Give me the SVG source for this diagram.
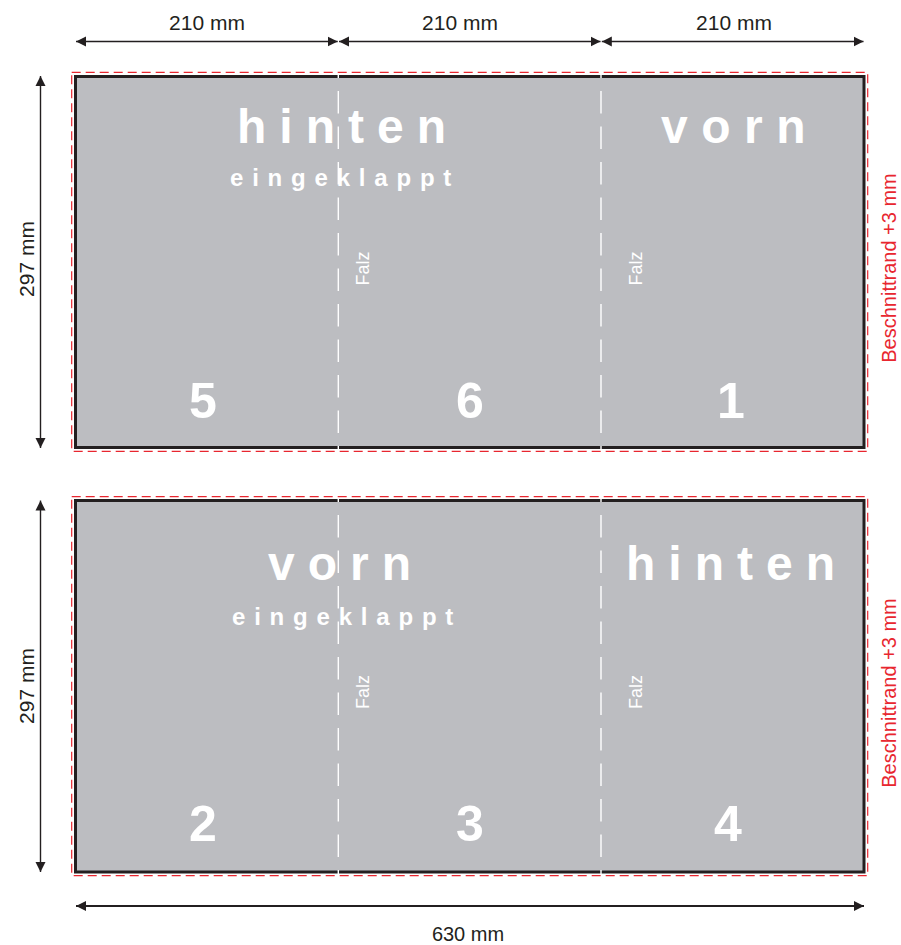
<svg xmlns="http://www.w3.org/2000/svg" width="901" height="945" viewBox="0 0 901 945">
<defs>
<marker id="ah" viewBox="0 0 10 10" refX="10" refY="5" markerWidth="10" markerHeight="11" markerUnits="userSpaceOnUse" orient="auto-start-reverse">
<path d="M0,0 L10,5 L0,10 z" fill="#231f20"/>
</marker>
<style>
.panel{fill:#bcbdc1;stroke:#231f20;stroke-width:3}
.bleed{fill:none;stroke:#e8262f;stroke-width:1.2;stroke-dasharray:9 5}
.fold{stroke:#ffffff;stroke-width:1.4;stroke-dasharray:22.5 13}
.dim{stroke:#231f20;stroke-width:1.4;fill:none}
.dt{font-family:"Liberation Sans",Arial,sans-serif;font-size:21px;fill:#231f20}
.big{font-family:"Liberation Sans",Arial,sans-serif;font-weight:bold;font-size:48px;fill:#ffffff;letter-spacing:13px}
.sub{font-family:"Liberation Sans",Arial,sans-serif;font-weight:bold;font-size:24px;fill:#ffffff;letter-spacing:8.8px}
.num{font-family:"Liberation Sans",Arial,sans-serif;font-weight:bold;font-size:50px;fill:#ffffff;text-anchor:middle}
.falz{font-family:"Liberation Sans",Arial,sans-serif;font-size:18px;fill:#ffffff;text-anchor:middle}
.red{font-family:"Liberation Sans",Arial,sans-serif;font-size:20px;fill:#e8262f;text-anchor:middle}
</style>
</defs>
<g id="top-panel">
<rect class="bleed" x="71.7" y="72.3" width="796" height="379"/>
<rect class="panel" x="75.5" y="76.5" width="788.5" height="371"/>
<line class="fold" x1="338.3" y1="75" x2="338.3" y2="449" stroke-dashoffset="19.5"/>
<line class="fold" x1="601" y1="75" x2="601" y2="449" stroke-dashoffset="19.5"/>
<text class="big" x="237" y="143">hinten</text>
<text class="sub" x="230" y="186">eingeklappt</text>
<text class="big" x="661" y="143" style="letter-spacing:13.5px">vorn</text>
<text class="falz" transform="translate(369,268.5) rotate(-90)">Falz</text>
<text class="falz" transform="translate(642,268.5) rotate(-90)">Falz</text>
<text class="num" x="203" y="418">5</text>
<text class="num" x="470" y="418">6</text>
<text class="num" x="731" y="418">1</text>
</g>
<g id="bottom-panel">
<rect class="bleed" x="71.7" y="496.7" width="796" height="379"/>
<rect class="panel" x="75.5" y="500.5" width="788.5" height="371.5"/>
<line class="fold" x1="338.3" y1="499" x2="338.3" y2="874" stroke-dashoffset="19.5"/>
<line class="fold" x1="601" y1="499" x2="601" y2="874" stroke-dashoffset="19.5"/>
<text class="big" x="268" y="580">vorn</text>
<text class="sub" x="232" y="625">eingeklappt</text>
<text class="big" x="626" y="580">hinten</text>
<text class="falz" transform="translate(369,692) rotate(-90)">Falz</text>
<text class="falz" transform="translate(642,692) rotate(-90)">Falz</text>
<text class="num" x="203" y="841">2</text>
<text class="num" x="470" y="841">3</text>
<text class="num" x="728" y="841">4</text>
</g>
<g id="connectors">
<line class="dim" x1="76" y1="41.5" x2="337.7" y2="41.5" marker-start="url(#ah)" marker-end="url(#ah)"/>
<line class="dim" x1="339" y1="41.5" x2="600.5" y2="41.5" marker-start="url(#ah)" marker-end="url(#ah)"/>
<line class="dim" x1="601.8" y1="41.5" x2="863.5" y2="41.5" marker-start="url(#ah)" marker-end="url(#ah)"/>
<line class="dim" x1="40.5" y1="76" x2="40.5" y2="448" marker-start="url(#ah)" marker-end="url(#ah)"/>
<line class="dim" x1="40.5" y1="500.5" x2="40.5" y2="872" marker-start="url(#ah)" marker-end="url(#ah)"/>
<line class="dim" x1="76" y1="906" x2="864" y2="906" style="stroke-width:2" marker-start="url(#ah)" marker-end="url(#ah)"/>
</g>
<g id="labels">
<text class="dt" x="207" y="30" text-anchor="middle">210 mm</text>
<text class="dt" x="460" y="30" text-anchor="middle">210 mm</text>
<text class="dt" x="734" y="30" text-anchor="middle">210 mm</text>
<text class="dt" text-anchor="middle" transform="translate(33.5,259) rotate(-90)">297 mm</text>
<text class="dt" text-anchor="middle" transform="translate(33.5,686) rotate(-90)">297 mm</text>
<text class="dt" x="468" y="941" text-anchor="middle" style="font-size:20px">630 mm</text>
<text class="red" transform="translate(896,268) rotate(-90)">Beschnittrand +3 mm</text>
<text class="red" transform="translate(896,693) rotate(-90)">Beschnittrand +3 mm</text>
</g>
</svg>
